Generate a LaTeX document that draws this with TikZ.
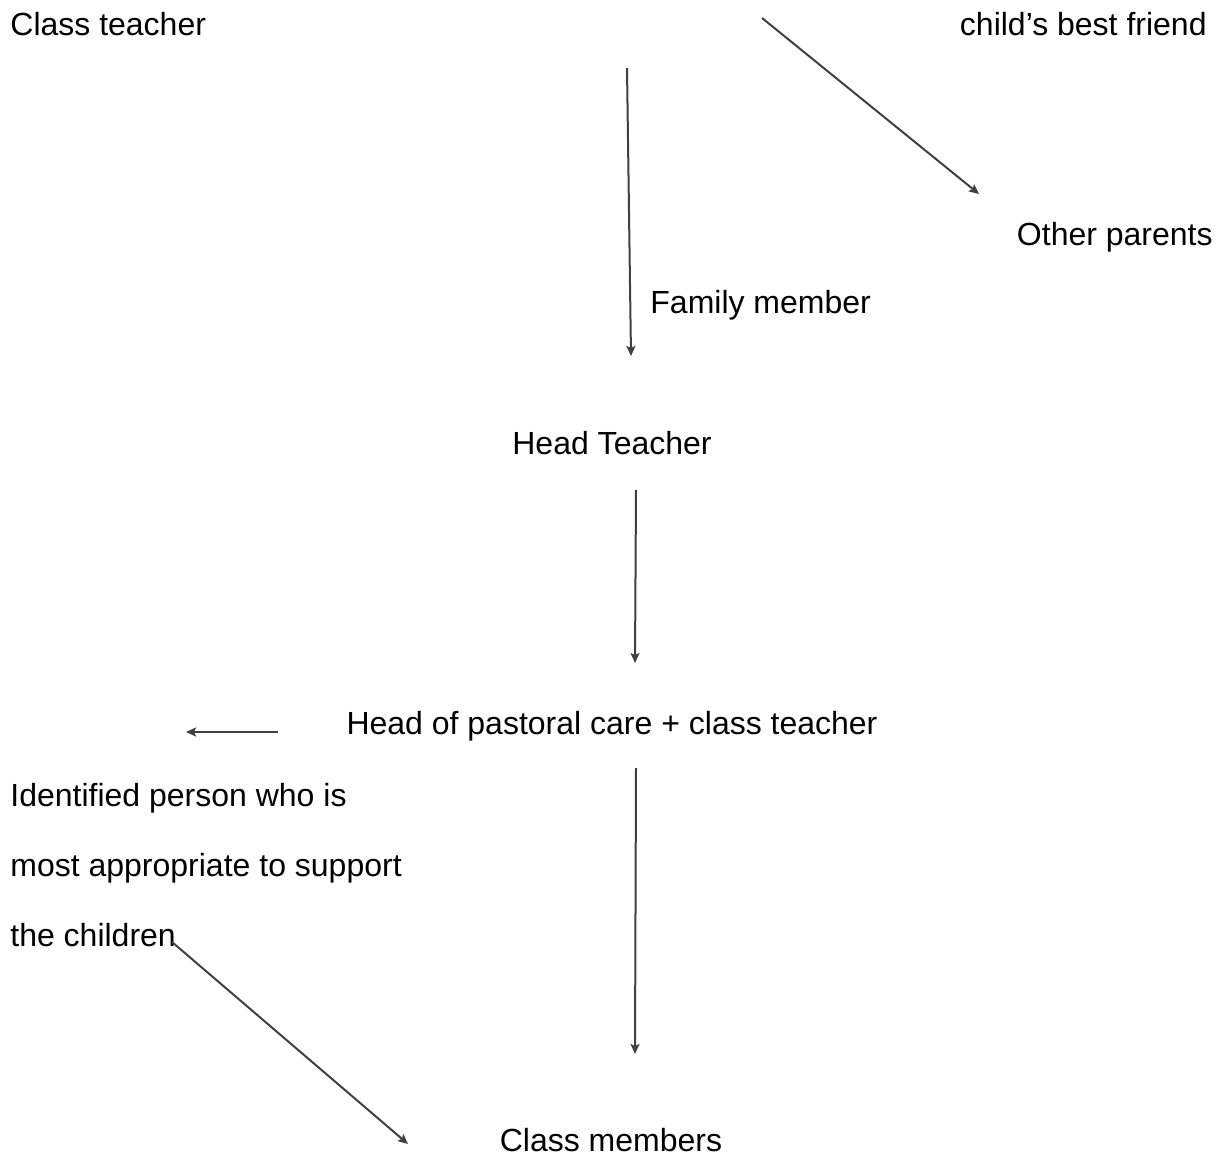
\documentclass[tikz,border=0pt]{standalone}
\usepackage{fontspec}
\setmainfont{Liberation Sans}
\usetikzlibrary{arrows.meta}

\begin{document}
\begin{tikzpicture}[x=.5pt, y=-.5pt,
    every node/.style={draw=none, inner sep=0pt, font=\fontsize{16}{19}\selectfont},
    arr/.style={draw=black!75, line width=1pt, -{Stealth[length=5pt, width=4.5pt, inset=1pt]}}]
             \useasboundingbox (0,0) rectangle (1225,1160);

             \node[anchor=base west] (classt) at (10, 36) {Class teacher};
             \node[anchor=base east] (friend) at (1207, 36) {child’s best friend};
             \node[anchor=base east] (parents) at (1213, 246) {Other parents};
             \node[anchor=base west] (family) at (650, 314) {Family member};
             \node[anchor=base] (head) at (612, 454) {Head Teacher};
             \node[anchor=base] (pastoral) at (612, 734) {Head of pastoral care + class teacher};

             \node[anchor=base west] (ident1) at (10, 806) {Identified person who is};
             \node[anchor=base west] (ident2) at (10, 876) {most appropriate to support};
             \node[anchor=base west] (ident3) at (10, 946) {the children};

             \node[anchor=base] (members) at (611, 1151) {Class members};

             % arrow ends
             \coordinate (a1) at (627, 68);
             \coordinate (b1) at (631, 356);
             \coordinate (a2) at (762, 18);
             \coordinate (b2) at (979, 194);
             \coordinate (a3) at (636, 490);
             \coordinate (b3) at (635, 663);
             \coordinate (a4) at (278, 732);
             \coordinate (b4) at (186, 732);
             \coordinate (a5) at (636, 768);
             \coordinate (b5) at (635, 1054);
             \coordinate (a6) at (172, 942);
             \coordinate (b6) at (408, 1144);

             \draw[arr] (a1) -- (b1);
             \draw[arr] (a2) -- (b2);
             \draw[arr] (a3) -- (b3);
             \draw[arr] (a4) -- (b4);
             \draw[arr] (a5) -- (b5);
             \draw[arr] (a6) -- (b6);
\end{tikzpicture}
\end{document}
